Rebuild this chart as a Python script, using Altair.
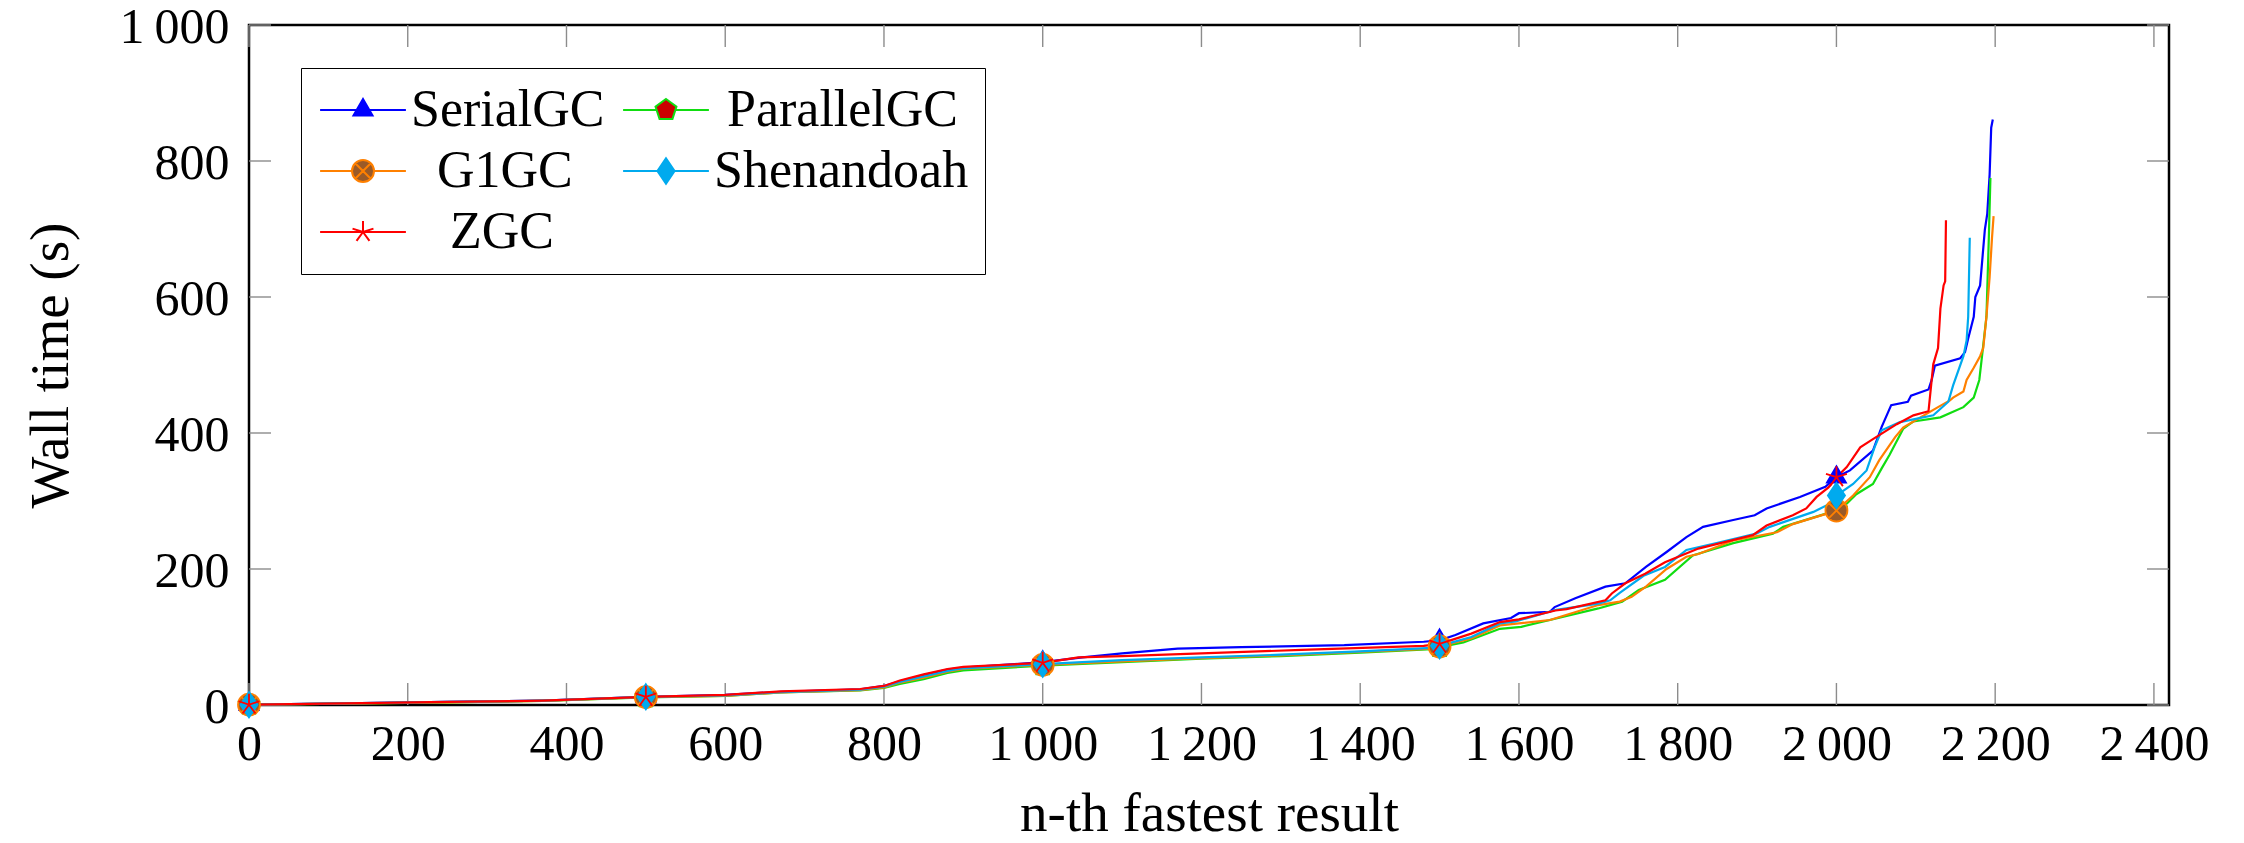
import altair as alt
import pandas as pd

# ---------------- data ----------------
series_names = ["SerialGC", "ParallelGC", "G1GC", "Shenandoah", "ZGC"]
line_colors = ["#0000ff", "#11dd11", "#ff8000", "#00aaee", "#ff0000"]
marker_fills = ["#0000ff", "#cc0000", "#9a5a28", "#00aaee", "#ff0000"]

serial_n = [0, 120, 250, 370, 500, 600, 670, 770, 800, 820, 850, 880, 900, 1000, 1050,
            1100, 1170, 1250, 1380, 1480, 1500, 1520, 1555, 1590, 1600, 1639, 1645, 1671,
            1709, 1734, 1760, 1786, 1811, 1832, 1870, 1897, 1912, 1954, 1986, 2000, 2017,
            2046, 2057, 2069, 2090, 2094, 2116, 2120, 2124, 2156, 2162, 2166, 2173, 2175,
            2181, 2184, 2187, 2190, 2193, 2195, 2197]
serial_v = [0.5, 2.5, 4.5, 6.5, 12, 15, 19.5, 23, 28, 35, 44, 52, 55, 63, 70,
            76, 83, 85, 88, 93, 95, 103, 120, 128, 135, 137, 144, 157,
            174, 179, 203, 225, 247, 262, 272, 279, 289, 306, 321, 335, 345,
            374, 409, 441, 446, 455, 464, 478, 499, 510, 519, 539, 571, 600,
            617, 658, 699, 722, 780, 849, 861]

parallel_n = [0, 120, 250, 370, 500, 600, 670, 770, 800, 820, 850, 880, 900, 1000, 1100,
              1200, 1300, 1400, 1490, 1500, 1530, 1576, 1603, 1639, 1700, 1730, 1751, 1784,
              1819, 1870, 1920, 1933, 1986, 2000, 2013, 2025, 2046, 2057, 2067, 2084, 2097,
              2131, 2160, 2173, 2180, 2184, 2189, 2192, 2194]
parallel_v = [0.5, 2, 4, 6, 11, 13.5, 18.5, 21.5, 25, 31, 38, 47, 51, 58, 63,
              68, 72, 77, 82, 85, 92, 112, 115, 125, 142, 152, 169, 184,
              220, 238, 252, 262, 281, 287, 296, 310, 325, 348, 368, 406, 417,
              423, 438, 452, 478, 519, 571, 687, 775]

g1_n = [0, 120, 250, 370, 500, 600, 670, 770, 800, 820, 850, 880, 900, 1000, 1100,
        1200, 1300, 1400, 1490, 1500, 1540, 1576, 1639, 1700, 1727, 1742, 1760, 1786,
        1811, 1826, 1870, 1925, 1945, 1987, 2000, 2021, 2042, 2054, 2074, 2084, 2097,
        2128, 2143, 2147, 2160, 2164, 2173, 2181, 2185, 2189, 2193, 2196, 2198]
g1_v = [0.5, 2, 4, 6, 11.5, 13.5, 18.5, 22, 26, 33, 40, 49, 53, 59, 64,
        69, 73, 78, 83, 86, 98, 117, 125, 147, 152, 159, 174, 200,
        218, 222, 242, 254, 266, 281, 286, 308, 335, 360, 394, 408, 417,
        438, 448, 452, 461, 478, 496, 513, 525, 571, 629, 687, 719]

shen_n = [0, 120, 250, 370, 500, 600, 670, 770, 800, 820, 850, 880, 900, 1000, 1100,
          1200, 1300, 1400, 1490, 1500, 1540, 1576, 1596, 1647, 1700, 1715, 1727, 1757,
          1784, 1811, 1849, 1899, 1916, 1971, 1992, 2000, 2021, 2038, 2048, 2057, 2080,
          2122, 2141, 2147, 2160, 2164, 2166, 2168]
shen_v = [0.5, 2.5, 4.5, 6.5, 12, 14, 19, 22.5, 27, 34, 42, 50, 54, 60, 66,
          70, 74, 79, 84, 87, 100, 120, 123, 140, 149, 154, 165, 190,
          203, 228, 238, 252, 262, 284, 296, 308, 325, 345, 379, 404, 416,
          426, 446, 470, 513, 536, 571, 687]

zgc_n = [0, 120, 250, 370, 500, 600, 670, 770, 800, 820, 850, 880, 900, 1000, 1045,
         1100, 1200, 1326, 1480, 1500, 1540, 1576, 1600, 1646, 1660, 1709, 1717, 1734,
         1759, 1784, 1826, 1895, 1912, 1945, 1962, 1975, 1990, 2000, 2013, 2030, 2046,
         2076, 2097, 2116, 2122, 2128, 2131, 2135, 2137, 2138]
zgc_v = [0.5, 2.5, 4.5, 6.5, 12, 15, 20, 23.5, 28, 36, 45, 53, 56, 62, 70,
         72, 76, 81, 87, 90, 105, 122, 126, 139, 141, 154, 164, 179,
         193, 210, 230, 250, 264, 279, 289, 306, 320, 335, 350, 379, 391,
         413, 426, 432, 501, 525, 583, 617, 623, 713]

x_ticks = [0, 200, 400, 600, 800, 1000, 1200, 1400, 1600, 1800, 2000, 2200, 2400]
y_ticks = [0, 200, 400, 600, 800, 1000]
marker_every = 500

# legend is laid out column by column: 3 rows x 2 columns
legend_order = ["SerialGC", "G1GC", "ZGC", "ParallelGC", "Shenandoah"]

# ---------------- table ----------------
rows = []
for name, ns, vs in [("SerialGC", serial_n, serial_v),
                     ("ParallelGC", parallel_n, parallel_v),
                     ("G1GC", g1_n, g1_v),
                     ("Shenandoah", shen_n, shen_v),
                     ("ZGC", zgc_n, zgc_v)]:
    for n, v in zip(ns, vs):
        rows.append({"series": name, "n": n, "v": v})
df = pd.DataFrame(rows)

# ---------------- marker shapes ----------------
tri = "M0,-1L0.866,0.5L-0.866,0.5Z"
pent = "M0,-1L0.951,-0.309L0.588,0.809L-0.588,0.809L-0.951,-0.309Z"
otimes = ("M-1,0A1,1 0 1,0 1,0A1,1 0 1,0 -1,0Z"
          "M-0.707,-0.707L0.707,0.707M-0.707,0.707L0.707,-0.707")
diam = "M0,-1.15L0.78,0L0,1.15L-0.78,0Z"
star = ("M0,0L0,-1M0,0L0.951,-0.309M0,0L0.588,0.809"
        "M0,0L-0.588,0.809M0,0L-0.951,-0.309")
marker_paths = [tri, pent, otimes, diam, star]


def with_line(path, gap):
    return "M-3.9,0L%s,0M%s,0L3.9,0" % (-gap, gap) + path


legend_path_of = {
    "SerialGC": with_line(tri, 0.55),
    "ParallelGC": with_line(pent, 0.9),
    "G1GC": with_line(otimes, 1.0),
    "Shenandoah": with_line(diam, 0.78),
    "ZGC": "M-3.9,0L3.9,0" + star,
}
idx = {s: i for i, s in enumerate(series_names)}
leg_paths = [legend_path_of[s] for s in legend_order]
leg_strokes = [line_colors[idx[s]] for s in legend_order]
leg_fills = [marker_fills[idx[s]] for s in legend_order]

FONT = "Liberation Serif"
FS = 50
LFS = 52
TFS = 55

xs = alt.Scale(domain=[0, 2419], nice=False, zero=False)
ys = alt.Scale(domain=[0, 1000], nice=False, zero=False)
fmt = "replace(format(datum.value, ','), ',', '\u2009')"

x_axis = alt.Axis(values=x_ticks, labelExpr=fmt, ticks=False, tickSize=0, domain=False,
                  grid=False, labelFont=FONT, labelFontSize=FS, labelColor="black",
                  labelPadding=14, labelFlush=False, labelOverlap=False,
                  title="n-th fastest result", titleFont=FONT, titleFontSize=TFS,
                  titleFontWeight="normal", titleColor="black", titleY=125,
                  titleBaseline="alphabetic")
y_axis = alt.Axis(values=y_ticks, labelExpr=fmt, ticks=False, tickSize=0, domain=False,
                  grid=False, labelFont=FONT, labelFontSize=FS, labelColor="black",
                  labelPadding=20, labelOffset=2, labelFlush=False, labelOverlap=False,
                  title="Wall time (s)", titleFont=FONT, titleFontSize=TFS,
                  titleFontWeight="normal", titleColor="black", titleX=-199,
                  titleY=340, titleAngle=270, titleAlign="center",
                  titleBaseline="middle")

X = alt.X("n:Q", scale=xs, axis=x_axis)
Y = alt.Y("v:Q", scale=ys, axis=y_axis)

base = alt.Chart(df)

lines = base.mark_line(strokeWidth=2.2).encode(
    x=X, y=Y,
    stroke=alt.Stroke("series:N", scale=alt.Scale(domain=series_names, range=line_colors),
                      legend=None),
    order=alt.Order("n:Q"),
)

markers = base.transform_filter(f"datum.n % {marker_every} == 0").mark_point(
    filled=True, opacity=1, size=484, strokeWidth=1.8
).encode(
    x=X, y=Y,
    shape=alt.Shape("series:N", scale=alt.Scale(domain=series_names, range=marker_paths),
                    legend=None),
    fill=alt.Fill("series:N", scale=alt.Scale(domain=series_names, range=marker_fills),
                  legend=None),
    stroke=alt.Stroke("series:N", scale=alt.Scale(domain=series_names, range=line_colors),
                      legend=None),
)

# labels are centred in their legend column (as in the original): a word joiner keeps
# the leading no-break spaces from being trimmed by the renderer
WJ = "\u2060"
NB = "\u00a0"
label_expr = ("datum.label == 'G1GC' ? '" + WJ + NB * 2 + "G1GC' : "
              "datum.label == 'ZGC' ? '" + WJ + NB * 3 + "ZGC' : "
              "datum.label == 'ParallelGC' ? '" + WJ + NB + "ParallelGC' : datum.label")

leg = alt.Legend(title=None, orient="none", legendX=52, legendY=43, columns=2,
                 padding=16, fillColor="white", strokeColor="black", cornerRadius=0,
                 labelFont=FONT, labelFontSize=LFS, labelColor="black", labelLimit=500,
                 labelExpr=label_expr,
                 symbolSize=484, symbolStrokeWidth=2, symbolOffset=20, labelOffset=22,
                 columnPadding=14, rowPadding=9)

legend_layer = base.transform_filter("false").mark_point(
    filled=True, opacity=1, size=484, strokeWidth=2
).encode(
    x=X, y=Y,
    shape=alt.Shape("series:N", scale=alt.Scale(domain=legend_order, range=leg_paths),
                    legend=leg),
    fill=alt.Fill("series:N", scale=alt.Scale(domain=legend_order, range=leg_fills),
                  legend=leg),
    stroke=alt.Stroke("series:N", scale=alt.Scale(domain=legend_order, range=leg_strokes),
                      legend=leg),
)

xt = pd.DataFrame({"n": x_ticks})
yt = pd.DataFrame({"v": y_ticks})
TICK = dict(color="#8c8c8c", strokeWidth=1.4)
xtick_b = alt.Chart(xt).mark_rule(**TICK).encode(x=X, y=alt.value(680), y2=alt.value(658))
xtick_t = alt.Chart(xt).mark_rule(**TICK).encode(x=X, y=alt.value(0), y2=alt.value(22))
ytick_l = alt.Chart(yt).mark_rule(**TICK).encode(y=Y, x=alt.value(0), x2=alt.value(22))
ytick_r = alt.Chart(yt).mark_rule(**TICK).encode(y=Y, x=alt.value(1920), x2=alt.value(1898))

chart = alt.layer(
    xtick_b, xtick_t, ytick_l, ytick_r, lines, markers, legend_layer
).resolve_scale(
    shape="independent", fill="independent", stroke="independent"
).properties(
    width=1920, height=680,
    autosize=alt.AutoSizeParams(type="none"),
    padding={"left": 241, "top": 17, "right": 67, "bottom": 140},
    background="white",
).configure_view(stroke="black", strokeWidth=2.5)

chart.save("out.html", embed_options={"renderer": "svg", "actions": False})
